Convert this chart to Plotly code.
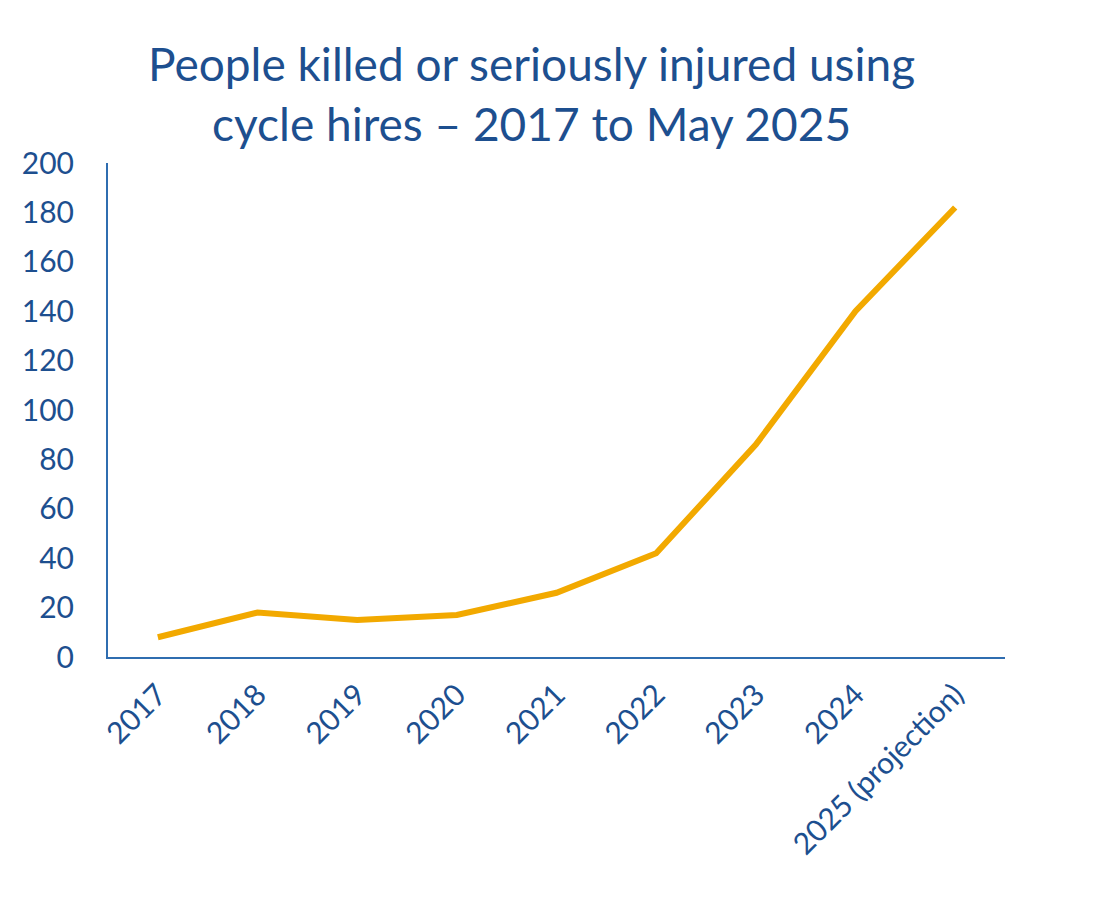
import plotly.graph_objects as go

categories = ["2017", "2018", "2019", "2020", "2021", "2022", "2023", "2024", "2025 (projection)"]
values = [8, 18, 15, 17, 26, 42, 86, 140, 182]
y_ticks = [0, 20, 40, 60, 80, 100, 120, 140, 160, 180, 200]
title_text = "People killed or seriously injured using<br>cycle hires – 2017 to May 2025"

TEXT = "#1d4f8f"
AXIS = "#2f6db0"
FONT = "Lato"

fig = go.Figure()
fig.add_trace(go.Scatter(
    x=categories, y=values, mode="lines",
    line=dict(color="#f2a900", width=6),
    hoverinfo="skip",
))

fig.add_annotation(
    text=title_text, showarrow=False,
    xref="paper", yref="paper", x=0.4716, y=1.1417,
    xanchor="center", yanchor="middle",
    font=dict(family=FONT, size=46, color=TEXT),
)

fig.update_layout(
    width=1095, height=897,
    margin=dict(l=108, r=90, t=163, b=240),
    paper_bgcolor="white", plot_bgcolor="white",
    showlegend=False,
    font=dict(family=FONT, color=TEXT),
    xaxis=dict(
        type="category", range=[-0.5, 8.5],
        showline=True, linecolor=AXIS, linewidth=2,
        showgrid=False, zeroline=False, ticks="",
        tickangle=-45, tickfont=dict(family=FONT, size=30, color=TEXT),
        ticklabelstandoff=6,
    ),
    yaxis=dict(
        range=[0, 200], tickvals=y_ticks,
        showline=True, linecolor=AXIS, linewidth=2,
        showgrid=False, zeroline=False, ticks="",
        tickfont=dict(family=FONT, size=30, color=TEXT),
        ticklabelstandoff=26,
    ),
)

fig.write_html("out.html")
